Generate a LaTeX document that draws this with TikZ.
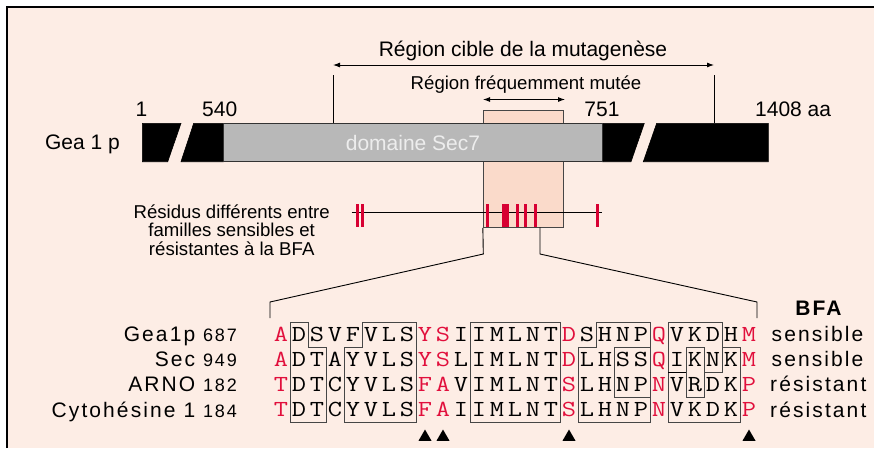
\documentclass[tikz,border=0pt]{standalone}
\usepackage{fontspec}
\usepackage{graphicx}
\setmainfont{Liberation Sans}
\newfontfamily\lsfont[LetterSpace=10]{Liberation Sans}
\usetikzlibrary{arrows.meta,shapes.geometric}
\definecolor{bgpink}{RGB}{253,237,229}
\definecolor{zonepink}{RGB}{250,218,202}
\definecolor{seqred}{RGB}{225,15,60}
\definecolor{tickred}{RGB}{215,0,50}
\definecolor{bargray}{RGB}{184,184,184}
\definecolor{boxgray}{RGB}{70,70,70}
\tikzset{
  thinline/.style={line width=0.9pt, draw=black},
  boxline/.style={line width=0.9pt, draw=boxgray},
  dblarrow/.style={thinline, {Latex[length=7pt,width=5pt]}-{Latex[length=7pt,width=5pt]}},
  seq/.style={anchor=base, inner sep=0pt, font=\fontsize{23}{23}\selectfont\ttfamily},
  lab/.style={inner sep=0pt, font=\fontsize{21}{21}\selectfont},
  labsmall/.style={inner sep=0pt, font=\fontsize{18.6}{18.6}\selectfont},
  rowlab/.style={anchor=base east, inner sep=0pt, font=\fontsize{21}{21}\lsfont},
  reslab/.style={anchor=base west, inner sep=0pt, font=\fontsize{21}{21}\lsfont},
  blackpiece/.style={fill=black, draw=black, line width=0.6pt},
  tick/.style={draw=tickred, line width=3.2pt},
  marker/.style={regular polygon, regular polygon sides=3, fill=black, inner sep=0pt, minimum size=15pt}
}
\newcommand\seqrow[2]{%
  \foreach \ch [count=\c from 0] in {#2} {%
    \pgfmathtruncatemacro\isred{(\c==0)||(\c==8)||(\c==9)||(\c==16)||(\c==21)||(\c==26)}%
    \ifnum\isred=1 \def\lc{seqred}\else\def\lc{black}\fi
    \node[seq, text=\lc] (s#1-\c) at ({281+18*\c},{341+25.2*#1}) {\scalebox{1.2}[1]{\ch}};
  }%
}
\begin{document}
\begin{tikzpicture}[x=1pt,y=-1pt]
\useasboundingbox (0,0) rectangle (874,448);
% background and frame
\fill[bgpink] (7.3,7.3) rectangle (874,448);
\draw[line width=1.7pt] (7.3,448) -- (7.3,7.3) -- (874,7.3);

% highlighted zone
\node[draw=boxgray, line width=0.9pt, fill=zonepink, minimum width=80pt, minimum height=116.6pt, inner sep=0pt] (zone) at (523.3,169) {};

% top labels and arrows
\node[lab, anchor=base] (tcible) at (523,56) {Région cible de la mutagenèse};
\coordinate (cL) at (333,65);
\coordinate (cR) at (714,65);
\coordinate (cLt) at (333,75);
\coordinate (cRt) at (714,75);
\coordinate (cLb) at (333,123.3);
\coordinate (cRb) at (714,123.3);
\draw[dblarrow] (cL) -- (cR);
\draw[thinline] (cLt) -- (cLb);
\draw[thinline] (cRt) -- (cRb);

\node[labsmall, anchor=base] (tfreq) at (526,89) {Région fréquemment mutée};
\coordinate (fL) at (483,99.5);
\coordinate (fR) at (565,99.5);
\draw[dblarrow] (fL) -- (fR);

% numbers
\node[lab, anchor=base] (n1) at (141.5,116.7) {1};
\node[lab, anchor=base] (n540) at (219.7,116.7) {540};
\node[lab, anchor=base] (n751) at (602,116.7) {751};
\node[lab, anchor=base west] (n1408) at (755,116.7) {1408 aa};

% protein bar
\node[lab, anchor=base east] (gea) at (120,149.5) {Gea 1 p};
\fill[blackpiece] (142.3,123.3) -- (181,123.3) -- (167.7,161.7) -- (142.3,161.7) -- cycle;
\fill[blackpiece] (193.7,123.3) -- (223.3,123.3) -- (223.3,161.7) -- (181,161.7) -- cycle;
\fill[blackpiece] (602.7,123.3) -- (644.3,123.3) -- (631,161.7) -- (602.7,161.7) -- cycle;
\fill[blackpiece] (656.7,123.3) -- (768.3,123.3) -- (768.3,161.7) -- (643.3,161.7) -- cycle;
\node[draw=black!80, line width=0.8pt, fill=bargray, minimum width=379.4pt, minimum height=38.4pt, inner sep=0pt,
      text=white!93!black, font=\fontsize{21}{21}\selectfont] (sec7) at (413,142.5) {domaine Sec7};

% residues line
\node[labsmall, anchor=base] (res1) at (231.7,218.4) {Résidus différents entre};
\node[labsmall, anchor=base] (res2) at (231.7,236.8) {familles sensibles et};
\node[labsmall, anchor=base] (res3) at (231.7,255.2) {résistantes à la BFA};
\coordinate (lineL) at (351.7,212.3);
\coordinate (lineR) at (601.7,212.3);
\draw[thinline] (lineL) -- (lineR);
\foreach \tx in {357.3,362.3,487.3,504,507,517.3,525.3,535.3,597.3} {
  \draw[tick] (\tx,204) -- (\tx,226.7);
}

% zoom connectors
\coordinate (zl1) at (zone.south west);
\coordinate (zl2) at (483.3,254);
\coordinate (zl3) at (270,302);
\coordinate (zl4) at (270,318);
\coordinate (zr1) at (540,227.3);
\coordinate (zr2) at (540,254);
\coordinate (zr3) at (757,302);
\coordinate (zr4) at (757,318);
\draw[thinline] (zl1) -- (zl2) -- (zl3) -- (zl4);
\draw[thinline] (zr1) -- (zr2) -- (zr3) -- (zr4);

% alignment boxes
\draw[boxline] (290,322) -- (308,322) -- (308,347.2) -- (326,347.2) -- (326,422.8) -- (290,422.8) -- cycle;
\draw[boxline] (362,322) -- (416,322) -- (416,422.8) -- (344,422.8) -- (344,347.2) -- (362,347.2) -- cycle;
\draw[boxline] (470,322) rectangle (560,422.8);
\draw[boxline] (596,322) -- (650,322) -- (650,422.8) -- (578,422.8) -- (578,347.2) -- (596,347.2) -- cycle;
\draw[boxline] (614,347.2) rectangle (650,397.6);
\draw[boxline] (668,322) -- (722,322) -- (722,347.2) -- (740,347.2) -- (740,422.8) -- (668,422.8) -- cycle;
\draw[boxline] (722,347.2) -- (722,372.4) -- (704,372.4) -- (704,347.2);
\draw[boxline] (686,347.2) rectangle (704,397.6);
\draw[line width=1.8pt, draw=black] (668,372.4) -- (686,372.4);

% sequences
\seqrow{0}{A,D,S,V,F,V,L,S,Y,S,I,I,M,L,N,T,D,S,H,N,P,Q,V,K,D,H,M}
\seqrow{1}{A,D,T,A,Y,V,L,S,Y,S,L,I,M,L,N,T,D,L,H,S,S,Q,I,K,N,K,M}
\seqrow{2}{T,D,T,C,Y,V,L,S,F,A,V,I,M,L,N,T,S,L,H,N,P,N,V,R,D,K,P}
\seqrow{3}{T,D,T,C,Y,V,L,S,F,A,I,I,M,L,N,T,S,L,H,N,P,N,V,K,D,K,P}

% row labels
\node[rowlab] (l1) at (237,341.5) {Gea1p {\fontsize{18}{18}\selectfont 687}};
\node[rowlab] (l2) at (237,366.7) {Sec {\fontsize{18}{18}\selectfont 949}};
\node[rowlab] (l3) at (237,391.9) {ARNO {\fontsize{18}{18}\selectfont 182}};
\node[rowlab] (l4) at (237,417.1) {Cytohésine 1 {\fontsize{18}{18}\selectfont 184}};

% BFA column
\node[anchor=base, inner sep=0pt, font=\fontsize{21}{21}\lsfont\bfseries] (bfa) at (818.5,315) {BFA};
\node[reslab] (r1) at (771.5,341.5) {sensible};
\node[reslab] (r2) at (771.5,366.7) {sensible};
\node[reslab] (r3) at (770,391.9) {résistant};
\node[reslab] (r4) at (770,417.1) {résistant};

% markers
\foreach \mc/\mx in {8/425,9/443,16/569,26/749} {
  \node[marker] (m\mc) at (\mx,437) {};
}
\end{tikzpicture}
\end{document}
